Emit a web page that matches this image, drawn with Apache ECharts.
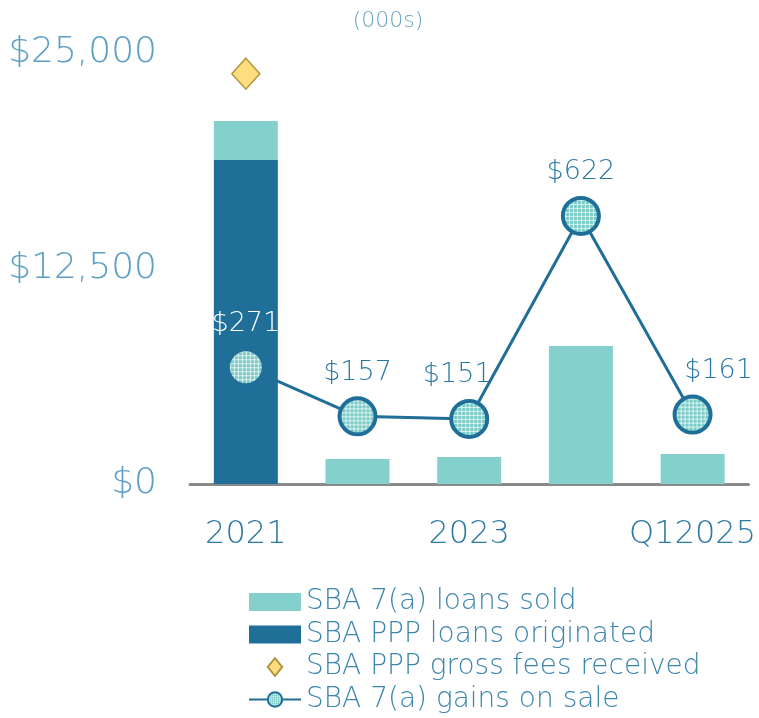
<!DOCTYPE html>
<html>
<head>
<meta charset="utf-8">
<script src="https://cdn.jsdelivr.net/npm/echarts@6/dist/echarts.min.js"></script>
<style>
  html, body { margin: 0; padding: 0; background: #fff; }
  #chart { width: 759px; height: 718px; }
</style>
</head>
<body>
<div id="chart"></div>
<script>
const categories = ['2021', '2022', '2023', '2024', 'Q12025']
const loansSold = [2250, 1450, 1570, 8000, 1740]
const pppOriginated = [18800, 0, 0, 0, 0]
const pppFees = [23800, null, null, null, null]
const gainsOnSale = [271, 157, 151, 622, 161]
const yTicks = [0, 12500, 25000]

const FONT = "'DejaVu Sans', sans-serif"
const dark = '#1f6f99'
const teal = '#84d0cc'
const markerSize = 36

// dotted teal fill for the gain markers (symbol paths are scaled, so undo it)
function makePattern() {
  const c = document.createElement('canvas')
  c.width = 4
  c.height = 4
  const g = c.getContext('2d')
  g.fillStyle = '#78cbc7'
  g.fillRect(0, 0, 4, 4)
  g.fillStyle = 'rgba(255,255,255,0.7)'
  g.fillRect(0, 0, 4, 1)
  g.fillRect(0, 0, 1, 4)
  return c
}
const pattern = {
  image: makePattern(),
  repeat: 'repeat',
  scaleX: 2 / markerSize,
  scaleY: 2 / markerSize
}

const chart = echarts.init(document.getElementById('chart'))

chart.setOption({
  animation: false,
  title: {
    text: '(000s)',
    left: 383,
    top: 5,
    textAlign: 'center',
    textStyle: { color: '#6aa3c3', fontSize: 22, fontWeight: 200, fontFamily: FONT }
  },
  grid: { left: 190, right: 10, top: 53, bottom: 234 },
  legend: {
    orient: 'vertical',
    left: 248,
    top: 588,
    padding: 0,
    itemWidth: 52,
    itemHeight: 18,
    itemGap: 4.5,
    textStyle: { color: '#3c86ad', fontSize: 28, fontWeight: 200, fontFamily: FONT, padding: [0, 0, 0, 0] },
    data: [
      { name: 'SBA 7(a) loans sold', icon: 'rect' },
      { name: 'SBA PPP loans originated', icon: 'rect' },
      { name: 'SBA PPP gross fees received', icon: 'path://M0,-10L8,0L0,10L-8,0Z' },
      { name: 'SBA 7(a) gains on sale' }
    ]
  },
  xAxis: {
    type: 'category',
    data: categories,
    axisLine: { lineStyle: { color: '#8a8a8a', width: 3 } },
    axisTick: { show: false },
    axisLabel: {
      interval: 1,
      margin: 35,
      color: '#2f7aa5',
      fontSize: 32,
      fontWeight: 200,
      fontFamily: FONT
    }
  },
  yAxis: [
    {
      type: 'value',
      min: 0,
      max: yTicks[yTicks.length - 1],
      interval: yTicks[1] - yTicks[0],
      splitLine: { show: false },
      axisLine: { show: false },
      axisLabel: {
        margin: 33,
        color: '#5d9fc4',
        fontSize: 36,
        fontWeight: 200,
        fontFamily: FONT,
        formatter: v => '$' + v.toLocaleString('en-US')
      }
    },
    {
      type: 'value',
      min: 0,
      max: 1000,
      show: false,
      splitLine: { show: false }
    }
  ],
  series: [
    {
      name: 'SBA PPP loans originated',
      type: 'bar',
      stack: 'loans',
      barWidth: 64,
      itemStyle: { color: dark },
      data: pppOriginated
    },
    {
      name: 'SBA 7(a) loans sold',
      type: 'bar',
      stack: 'loans',
      itemStyle: { color: teal },
      data: loansSold
    },
    {
      name: 'SBA PPP gross fees received',
      type: 'scatter',
      symbol: 'diamond',
      symbolSize: [28, 31],
      itemStyle: { color: '#fdd45e', borderColor: '#9c7d1c', borderWidth: 1.5 },
      data: pppFees
    },
    {
      name: 'SBA 7(a) gains on sale',
      type: 'line',
      yAxisIndex: 1,
      symbol: 'circle',
      symbolSize: markerSize,
      lineStyle: { color: dark, width: 3 },
      itemStyle: { color: pattern, borderColor: dark, borderWidth: 4 },
      label: {
        show: true,
        position: 'top',
        distance: 10,
        color: '#2a78a3',
        fontSize: 27,
        fontFamily: FONT,
        fontWeight: 200,
        formatter: p => '$' + p.value
      },
      data: gainsOnSale.map((v, i) => {
        if (i === 0) return { value: v, label: { color: '#ffffff' } }
        if (i === 2) return { value: v, label: { offset: [-12, 0] } }
        if (i === 4) return { value: v, label: { offset: [26, 0] } }
        return v
      })
    }
  ]
})
</script>
</body>
</html>
